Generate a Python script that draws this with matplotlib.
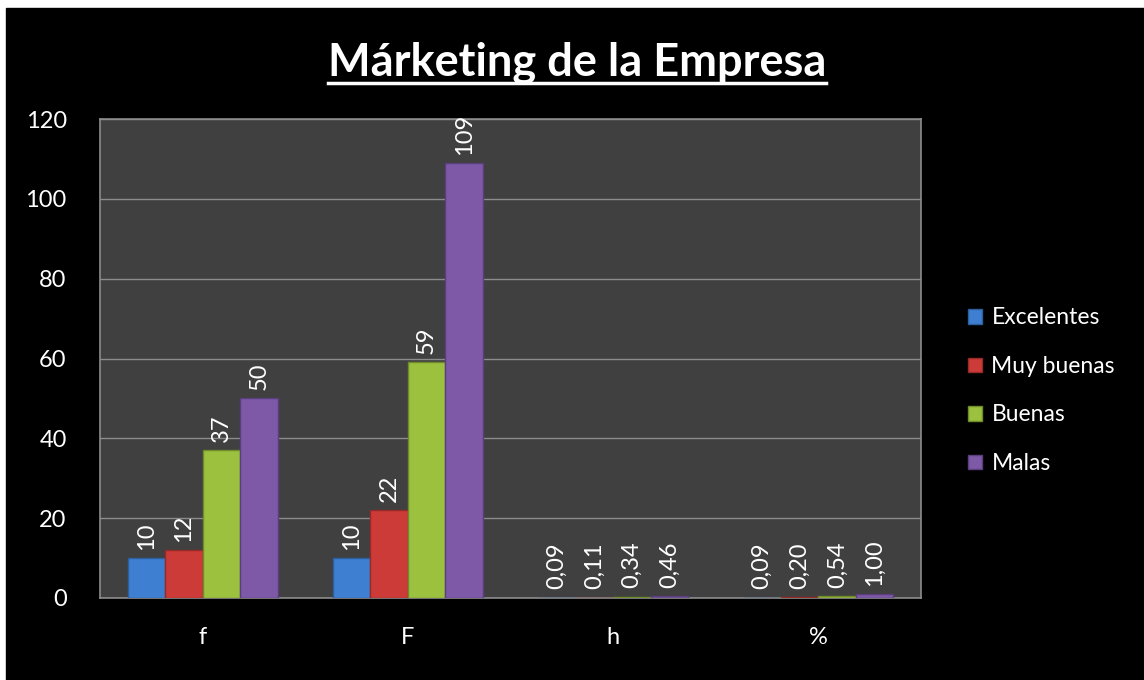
import numpy as np
import matplotlib.pyplot as plt
from matplotlib.lines import Line2D

plt.rcParams['font.family'] = ['Lato', 'DejaVu Sans']

# datos
categorias = ['f', 'F', 'h', '%']
excelentes = [10, 10, 0.09, 0.09]
muy_buenas = [12, 22, 0.11, 0.20]
buenas = [37, 59, 0.34, 0.54]
malas = [50, 109, 0.46, 1.00]
series = ['Excelentes', 'Muy buenas', 'Buenas', 'Malas']
colores = ['#3f7fd2', '#cc3b37', '#9cc13e', '#7d59a8']
bordes = ['#2c5f9e', '#962a28', '#6f8c2a', '#5a3f7d']

fig = plt.figure(figsize=(11.44, 6.8), dpi=100)
fig.patch.set_facecolor('white')
# fondo negro del area del grafico (con pequeno borde blanco arriba/izquierda)
fig.patches.append(plt.Rectangle((6 / 1144, 0), 1, 1 - 8 / 680,
                                 transform=fig.transFigure, color='black', zorder=-10))

ax = fig.add_axes([100 / 1144, 1 - 598 / 680, 821 / 1144, 479 / 680])
ax.set_facecolor('#404040')

x = np.arange(len(categorias))
w = 0.183
datos = [excelentes, muy_buenas, buenas, malas]
for i, (vals, nom) in enumerate(zip(datos, series)):
    pos = x + (i - 1.5) * w
    ax.bar(pos, vals, width=w, color=colores[i], edgecolor=bordes[i],
           linewidth=1, label=nom, zorder=3)
    for xp, v, c in zip(pos, vals, categorias):
        txt = f'{v:.0f}' if c in ('f', 'F') else f'{v:.2f}'.replace('.', ',')
        ax.annotate(txt, (xp, v), xytext=(0, 6), textcoords='offset points',
                    rotation=90, ha='center', va='bottom', color='white',
                    fontsize=17, zorder=4)

ax.set_xlim(-0.5, 3.5)
ax.set_ylim(0, 120)
ax.set_yticks(range(0, 121, 20))
ax.set_xticks(x)
ax.set_xticklabels(categorias)
ax.tick_params(colors='white', labelsize=17, length=0)
ax.tick_params(axis='x', pad=21)
ax.tick_params(axis='y', pad=24)
ax.grid(axis='y', color='#8c8c8c', linewidth=1, zorder=1)
for s in ax.spines.values():
    s.set_color('#8c8c8c')
    s.set_linewidth(1.2)

leg = fig.legend(loc='upper left', bbox_to_anchor=(957 / 1144, 1 - 296 / 680),
                 frameon=False, fontsize=16.5, labelcolor='white', borderpad=0,
                 handlelength=0.6, handleheight=0.6, handletextpad=0.4,
                 labelspacing=1.2)

titulo = fig.text(577 / 1144, 1 - 76 / 680, 'Márketing de la Empresa',
                  ha='center', va='baseline', color='white',
                  fontsize=32.5, fontweight='bold')
fig.canvas.draw()
bb = titulo.get_window_extent().transformed(fig.transFigure.inverted())
yl = 1 - 83 / 680
fig.lines.append(Line2D([bb.x0, bb.x1], [yl, yl], transform=fig.transFigure,
                        color='white', linewidth=2.5))

plt.savefig('out.png', dpi=100, facecolor=fig.get_facecolor())
